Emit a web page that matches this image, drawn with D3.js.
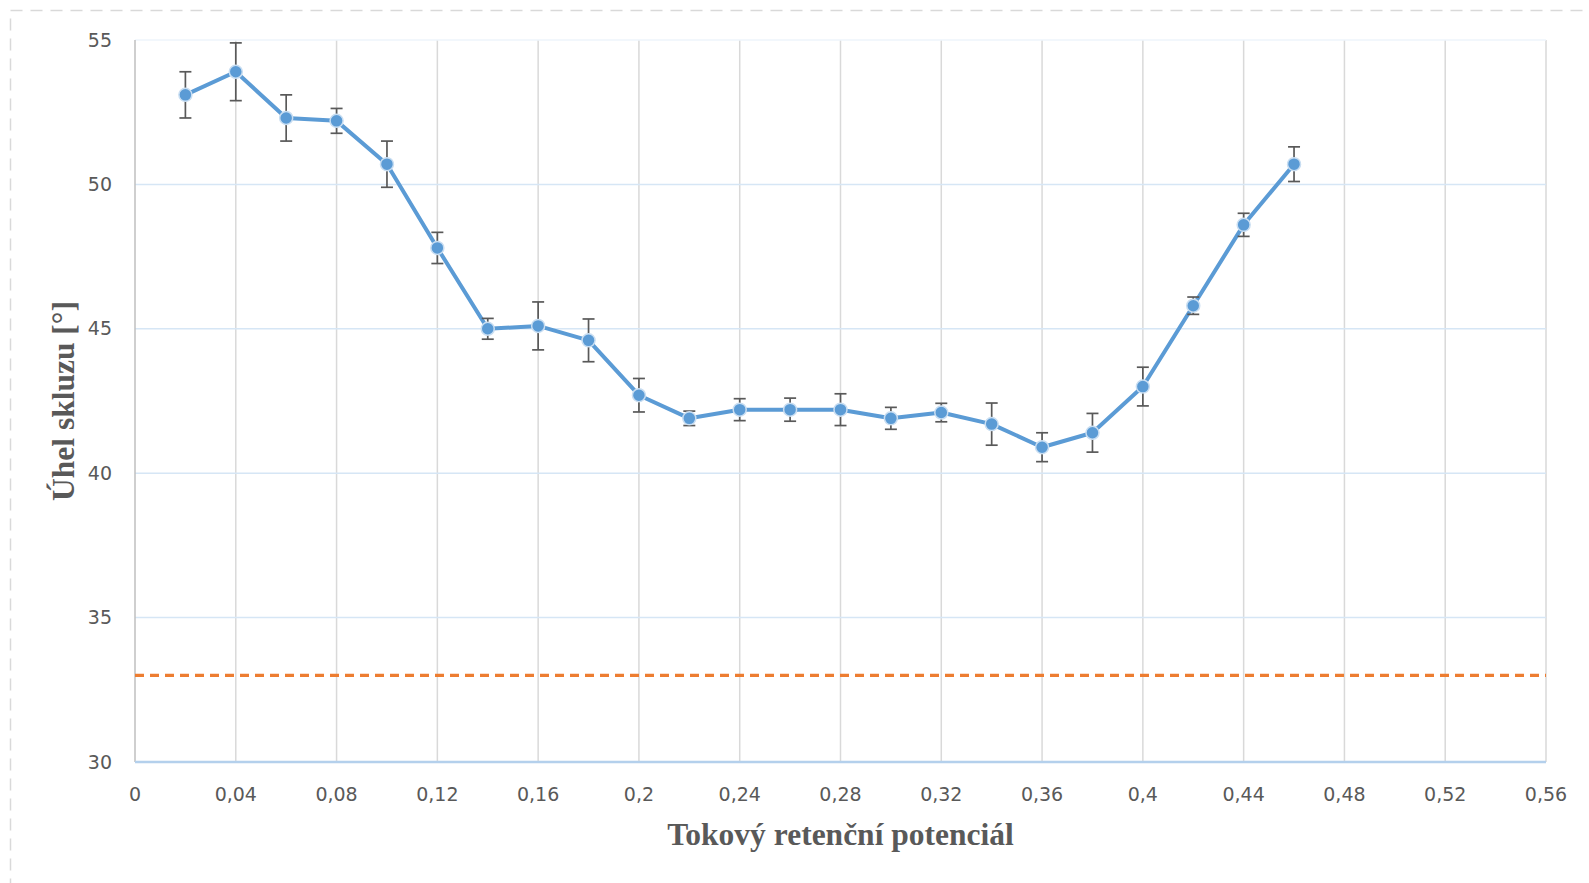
<!DOCTYPE html>
<html>
<head>
<meta charset="utf-8">
<script src="https://cdn.jsdelivr.net/npm/d3@7"></script>
<style>
  html, body { margin: 0; padding: 0; background: #fff; }
  svg { display: block; }
</style>
</head>
<body>
<svg id="chart" width="1589" height="883"></svg>
<script>
// ---- data ----
const xValues = [0.02, 0.04, 0.06, 0.08, 0.10, 0.12, 0.14, 0.16, 0.18, 0.20, 0.22, 0.24,
                 0.26, 0.28, 0.30, 0.32, 0.34, 0.36, 0.38, 0.40, 0.42, 0.44, 0.46];
const yValues = [53.1, 53.9, 52.3, 52.2, 50.7, 47.8, 45.0, 45.1, 44.6, 42.7, 41.9, 42.2,
                 42.2, 42.2, 41.9, 42.1, 41.7, 40.9, 41.4, 43.0, 45.8, 48.6, 50.7];
const yErrors = [0.8, 1.0, 0.8, 0.43, 0.8, 0.54, 0.36, 0.83, 0.74, 0.58, 0.25, 0.38,
                 0.4, 0.55, 0.38, 0.32, 0.73, 0.5, 0.67, 0.67, 0.3, 0.4, 0.6];
const referenceValue = 33;
const xTicks = [0, 0.04, 0.08, 0.12, 0.16, 0.2, 0.24, 0.28, 0.32, 0.36, 0.4, 0.44, 0.48, 0.52, 0.56];
const yTicks = [30, 35, 40, 45, 50, 55];
const xTitle = "Tokový retenční potenciál";
const yTitle = "Úhel skluzu [°]";

(function () {
// ---- layout ----
const svg = d3.select("#chart");
const pLeft = 135, pRight = 1546, pTop = 40, pBottom = 762;

const x = d3.scaleLinear().domain([0, 0.56]).range([pLeft, pRight]);
const y = d3.scaleLinear().domain([30, 55]).range([pBottom, pTop]);

const fmt = d => String(+d.toFixed(2)).replace(".", ",");

// dashed outer border
svg.append("rect")
  .attr("x", 10.5).attr("y", 10.5)
  .attr("width", 1650).attr("height", 950)
  .attr("fill", "none")
  .attr("stroke", "#d9d9d9")
  .attr("stroke-width", 1.5)
  .attr("stroke-dasharray", "12,8");

// vertical grid lines
svg.append("g")
  .selectAll("line")
  .data(xTicks.filter(d => d > 0))
  .join("line")
  .attr("x1", d => x(d)).attr("x2", d => x(d))
  .attr("y1", pTop).attr("y2", pBottom)
  .attr("stroke", "#d9d9d9")
  .attr("stroke-width", 1.5);

// horizontal grid lines
svg.append("g")
  .selectAll("line")
  .data(yTicks.filter(d => d > 30))
  .join("line")
  .attr("x1", pLeft).attr("x2", pRight)
  .attr("y1", d => y(d)).attr("y2", d => y(d))
  .attr("stroke", d => d === 55 ? "#eef4fb" : "#d6e6f5")
  .attr("stroke-width", 1.5);

// left axis line
svg.append("line")
  .attr("x1", pLeft).attr("x2", pLeft)
  .attr("y1", pTop).attr("y2", pBottom)
  .attr("stroke", "#bfbfbf")
  .attr("stroke-width", 1.5);

// bottom axis line
svg.append("line")
  .attr("x1", pLeft).attr("x2", pRight)
  .attr("y1", y(30)).attr("y2", y(30))
  .attr("stroke", "#b4d0ec")
  .attr("stroke-width", 2.5);

// y tick labels
svg.append("g")
  .selectAll("text")
  .data(yTicks)
  .join("text")
  .attr("x", 112)
  .attr("y", d => y(d))
  .attr("dy", "0.35em")
  .attr("text-anchor", "end")
  .attr("font-family", "'DejaVu Sans', sans-serif")
  .attr("font-size", 19)
  .attr("fill", "#595959")
  .text(d => d);

// x tick labels
svg.append("g")
  .selectAll("text")
  .data(xTicks)
  .join("text")
  .attr("x", d => x(d))
  .attr("y", 794)
  .attr("dy", "0.35em")
  .attr("text-anchor", "middle")
  .attr("font-family", "'DejaVu Sans', sans-serif")
  .attr("font-size", 19)
  .attr("fill", "#595959")
  .text(fmt);

// reference dashed line
svg.append("line")
  .attr("x1", pLeft).attr("x2", pRight)
  .attr("y1", y(referenceValue)).attr("y2", y(referenceValue))
  .attr("stroke", "#ed7d31")
  .attr("stroke-width", 3.2)
  .attr("stroke-dasharray", "9,6");

// series
const pts = xValues.map((xv, i) => ({ x: xv, y: yValues[i], e: yErrors[i] }));

svg.append("path")
  .datum(pts)
  .attr("fill", "none")
  .attr("stroke", "#5b9bd5")
  .attr("stroke-width", 4)
  .attr("stroke-linejoin", "round")
  .attr("d", d3.line().x(d => x(d.x)).y(d => y(d.y)));

// error bars
const eb = svg.append("g")
  .attr("stroke", "#595959")
  .attr("stroke-width", 1.7);
eb.selectAll("line.v").data(pts).join("line")
  .attr("class", "v")
  .attr("x1", d => x(d.x)).attr("x2", d => x(d.x))
  .attr("y1", d => y(d.y + d.e)).attr("y2", d => y(d.y - d.e));
eb.selectAll("line.t").data(pts).join("line")
  .attr("class", "t")
  .attr("x1", d => x(d.x) - 6).attr("x2", d => x(d.x) + 6)
  .attr("y1", d => y(d.y + d.e)).attr("y2", d => y(d.y + d.e));
eb.selectAll("line.b").data(pts).join("line")
  .attr("class", "b")
  .attr("x1", d => x(d.x) - 6).attr("x2", d => x(d.x) + 6)
  .attr("y1", d => y(d.y - d.e)).attr("y2", d => y(d.y - d.e));

// markers
svg.append("g")
  .selectAll("circle")
  .data(pts)
  .join("circle")
  .attr("cx", d => x(d.x))
  .attr("cy", d => y(d.y))
  .attr("r", 6.5)
  .attr("fill", "#5b9bd5")
  .attr("stroke", "#c9def2")
  .attr("stroke-width", 1.5);

// axis titles
svg.append("text")
  .attr("x", (pLeft + pRight) / 2)
  .attr("y", 845)
  .attr("text-anchor", "middle")
  .attr("font-family", "'Liberation Serif', 'Times New Roman', serif")
  .attr("font-weight", "bold")
  .attr("font-size", 31.5)
  .attr("fill", "#595959")
  .text(xTitle);

svg.append("text")
  .attr("transform", `translate(74, ${(pTop + pBottom) / 2}) rotate(-90)`)
  .attr("text-anchor", "middle")
  .attr("font-family", "'Liberation Serif', 'Times New Roman', serif")
  .attr("font-weight", "bold")
  .attr("font-size", 31.5)
  .attr("fill", "#595959")
  .text(yTitle);
})();
</script>
</body>
</html>
